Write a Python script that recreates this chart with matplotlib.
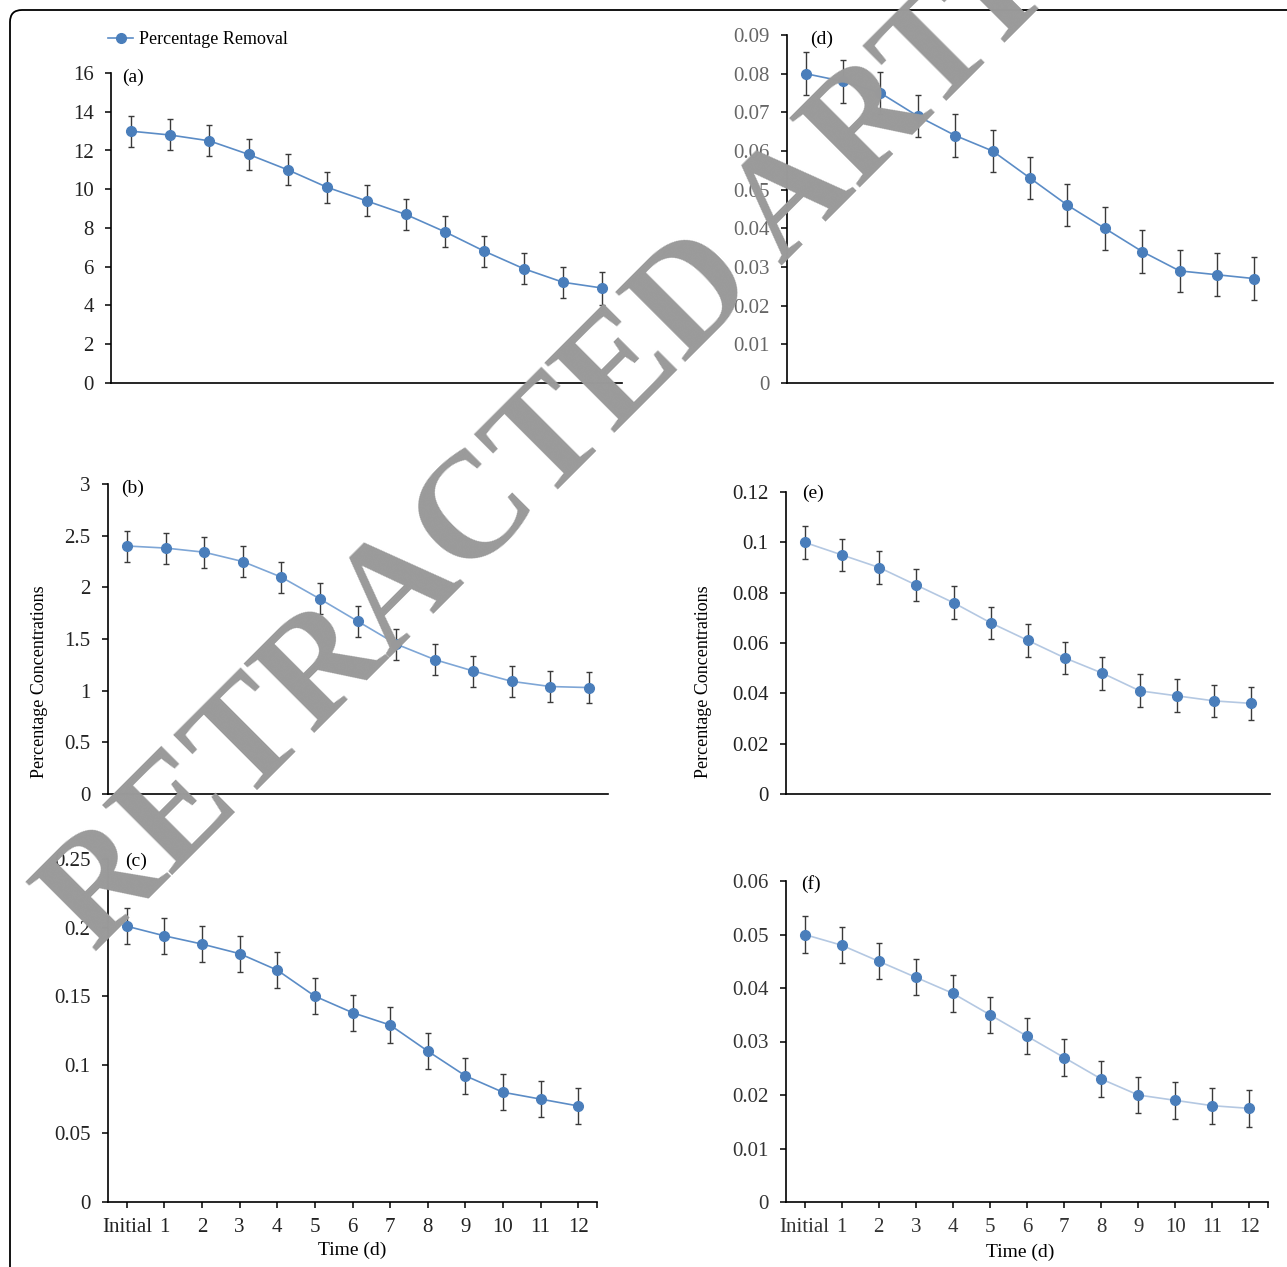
import numpy as np
import matplotlib
matplotlib.use('Agg')
import matplotlib.pyplot as plt
from matplotlib.patches import FancyBboxPatch
from matplotlib.lines import Line2D
from matplotlib.ticker import FuncFormatter

plt.rcParams['font.family'] = ['Liberation Serif', 'DejaVu Serif']

# categories on the time axis
time_labels = ['Initial', '1', '2', '3', '4', '5', '6', '7', '8', '9', '10', '11', '12']

# (a) percentage removal
a_vals = [13.0, 12.8, 12.5, 11.8, 11.0, 10.1, 9.4, 8.7, 7.8, 6.8, 5.9, 5.2, 4.9]
a_err = [0.8, 0.8, 0.8, 0.8, 0.8, 0.8, 0.8, 0.8, 0.8, 0.8, 0.8, 0.8, 0.85]
# (b)
b_vals = [2.40, 2.38, 2.34, 2.25, 2.10, 1.89, 1.67, 1.45, 1.30, 1.19, 1.09, 1.04, 1.03]
b_err = [0.15, 0.15, 0.15, 0.15, 0.15, 0.15, 0.15, 0.15, 0.15, 0.15, 0.15, 0.15, 0.15]
# (c)
c_vals = [0.201, 0.194, 0.188, 0.181, 0.169, 0.150, 0.138, 0.129, 0.110, 0.092, 0.080, 0.075, 0.070]
c_err = [0.013, 0.013, 0.013, 0.013, 0.013, 0.013, 0.013, 0.013, 0.013, 0.013, 0.013, 0.013, 0.013]
# (d)
d_vals = [0.080, 0.078, 0.075, 0.069, 0.064, 0.060, 0.053, 0.046, 0.040, 0.034, 0.029, 0.028, 0.027]
d_err = [0.0055, 0.0055, 0.0055, 0.0055, 0.0055, 0.0055, 0.0055, 0.0055, 0.0055, 0.0055, 0.0055, 0.0055, 0.0055]
# (e)
e_vals = [0.100, 0.095, 0.090, 0.083, 0.076, 0.068, 0.061, 0.054, 0.048, 0.041, 0.039, 0.037, 0.036]
e_err = [0.0065, 0.0065, 0.0065, 0.0065, 0.0065, 0.0065, 0.0065, 0.0065, 0.0065, 0.0065, 0.0065, 0.0065, 0.0065]
# (f)
f_vals = [0.050, 0.048, 0.045, 0.042, 0.039, 0.035, 0.031, 0.027, 0.023, 0.020, 0.019, 0.018, 0.0175]
f_err = [0.0034, 0.0034, 0.0034, 0.0034, 0.0034, 0.0034, 0.0034, 0.0034, 0.0034, 0.0034, 0.0034, 0.0034, 0.0034]

W, H = 1287, 1267
fig = plt.figure(figsize=(W / 100, H / 100), dpi=100)


def box(l, r, t, b):
    return [l / W, 1 - b / H, (r - l) / W, (b - t) / H]


def px(x, y):
    return x / W, 1 - y / H


# outer rounded frame (runs off the right and bottom edge)
frame = FancyBboxPatch((0.10, -0.5), 13.5, 13.07,
                       boxstyle='round,pad=0,rounding_size=0.12',
                       transform=fig.dpi_scale_trans, fill=False,
                       ec='black', lw=1.3, zorder=0)
fig.patches.append(frame)

blue = '#4a7ebb'
# label, values, errors, ymax, step, rect, label pos, bottom row, line colour, tick colour
panels = [
    ('(a)', a_vals, a_err, 16, 2, box(111, 622, 73, 383), (133, 77), False, '#5b8cc6', '#222222'),
    ('(b)', b_vals, b_err, 3, 0.5, box(108, 608, 484, 794), (133, 488), False, '#7ea6d6', '#222222'),
    ('(c)', c_vals, c_err, 0.25, 0.05, box(108, 597, 859, 1202), (136, 861), True, '#5b8cc6', '#222222'),
    ('(d)', d_vals, d_err, 0.09, 0.01, box(787, 1273, 35, 383), (822, 39), False, '#5b8cc6', '#666666'),
    ('(e)', e_vals, e_err, 0.12, 0.02, box(786, 1270, 492, 794), (813, 493), False, '#b4c8e2', '#222222'),
    ('(f)', f_vals, f_err, 0.06, 0.01, box(786, 1268, 881, 1202), (811, 884), True, '#b4c8e2', '#333333'),
]

x = np.arange(len(time_labels))
fmt = FuncFormatter(lambda v, p: '%g' % round(v, 4))

for lab, vals, err, ymax, step, rect, lpos, bottom, lc, tc in panels:
    ax = fig.add_axes(rect)
    ax.errorbar(x, vals, yerr=err, fmt='none', ecolor='#3a3a3a', elinewidth=1.0,
                capsize=2.2, capthick=1.0, zorder=2)
    ax.plot(x, vals, '-o', color=lc, lw=1.2, ms=7, mfc=blue, mec=blue, zorder=3)
    ax.set_xlim(-0.5, 12.5)
    ax.set_ylim(0, ymax)
    ax.set_yticks(np.arange(0, ymax + step / 2, step))
    ax.yaxis.set_major_formatter(fmt)
    for s in ['top', 'right']:
        ax.spines[s].set_visible(False)
    for s in ['left', 'bottom']:
        ax.spines[s].set_linewidth(1.2)
    ax.tick_params(axis='y', direction='out', length=4.5, width=1.1, pad=8,
                   labelsize=15, labelcolor=tc)
    if bottom:
        ax.set_xticks(x)
        ax.set_xticklabels(time_labels)
        ax.set_xticks([12.5], minor=True)
        ax.tick_params(axis='x', which='both', direction='out', length=4.5,
                       width=1.1, pad=7, labelsize=15, labelcolor=tc)
    else:
        ax.set_xticks([])
    fig.text(*px(*lpos), lab, ha='center', va='center', fontsize=14)

# legend at the top left
handle = Line2D([], [], color='#5b8cc6', lw=1.2, marker='o', ms=7, mfc=blue, mec=blue)
fig.legend(handles=[handle], labels=['Percentage Removal'], loc='center left',
           bbox_to_anchor=px(108, 40), frameon=False, fontsize=13,
           handlelength=1.4, handletextpad=0.3, borderpad=0, borderaxespad=0)

# axis titles
fig.text(*px(40, 682), 'Percentage Concentrations', rotation=90, ha='center', va='center', fontsize=13)
fig.text(*px(703, 682), 'Percentage Concentrations', rotation=90, ha='center', va='center', fontsize=13)
fig.text(*px(352, 1250), 'Time (d)', ha='center', va='center', fontsize=14)
fig.text(*px(1020, 1252), 'Time (d)', ha='center', va='center', fontsize=14)

# retraction watermark
fig.text(*px(678, 370), 'RETRACTED ARTICLE', rotation=45, rotation_mode='anchor',
         ha='center', va='baseline', fontsize=108, fontweight='bold',
         color='#9a9a9a', zorder=10)

fig.savefig('out.png', dpi=100)
